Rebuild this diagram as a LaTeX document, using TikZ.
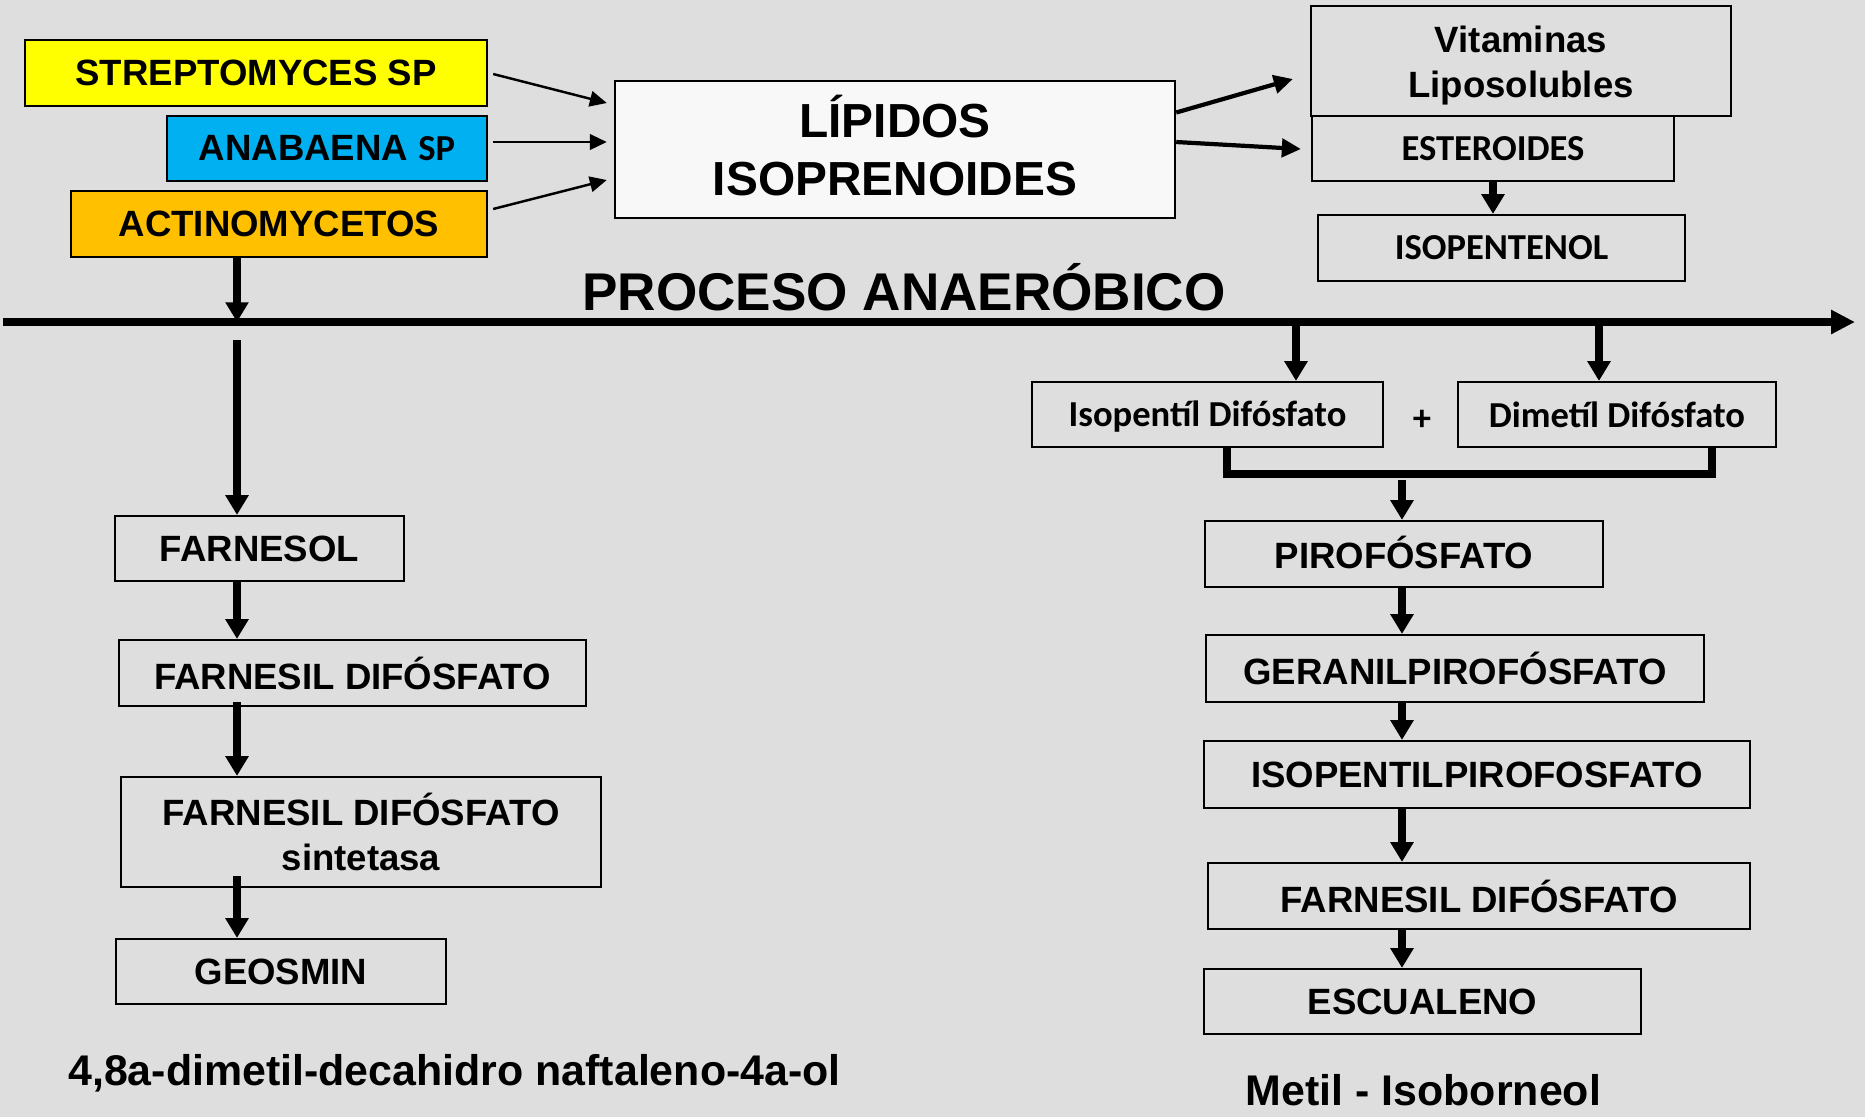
\documentclass[tikz,border=0pt]{standalone}
\usepackage{fontspec}
\setmainfont{Liberation Sans}
\newfontfamily\calib{Carlito}
\usetikzlibrary{arrows.meta,calc}
\definecolor{bg}{HTML}{DEDEDE}
\definecolor{yellowc}{HTML}{FFFF00}
\definecolor{cyanc}{HTML}{00B0F0}
\definecolor{orangec}{HTML}{FFC000}
\definecolor{lipfill}{HTML}{F8F8F8}
\newcommand{\mvtxt}[2]{\raisebox{#1}[\height][\depth]{#2}}
\begin{document}
\begin{tikzpicture}[x=0.01cm,y=-0.01cm,
  box/.style={draw=black, line width=0.6pt, fill=bg, inner sep=0pt, align=center,
    font=\bfseries\fontsize{10.4}{12.8}\selectfont},
  cbox/.style={font=\calib\bfseries\fontsize{10.4}{12.8}\selectfont},
  labeltext/.style={anchor=base, inner sep=0pt, font=\bfseries\fontsize{12.2}{14}\selectfont},
  flowarrow/.style={line width=2pt, -{Triangle[width=6.3pt,length=5.6pt]}},
  thinarrow/.style={line width=0.7pt, -{Triangle[width=4.4pt,length=4.8pt]}},
  medarrow/.style={line width=1.2pt, -{Triangle[width=5.2pt,length=5.4pt]}},
  mainline/.style={line width=2.2pt, -{Triangle[width=6.5pt,length=6.8pt]}},
  brkt/.style={line width=2pt}]
\fill[bg] (0,0) rectangle (1865,1117);
\useasboundingbox (0,0) rectangle (1865,1117);

% sources
\node[box, fill=yellowc, minimum width=4.62cm, minimum height=0.66cm] (strep) at (256,73) {STREPTOMYCES SP};
\node[box, fill=cyanc, minimum width=3.20cm, minimum height=0.65cm] (anab) at (327,148.5) {ANABAENA {\calib\fontsize{10.4}{12}\selectfont SP}};
\node[box, fill=orangec, minimum width=4.16cm, minimum height=0.66cm] (actino) at (279,224) {ACTINOMYCETOS};

\node[box, fill=lipfill, minimum width=5.60cm, minimum height=1.37cm,
  font=\bfseries\fontsize{13.6}{16.5}\selectfont] (lipidos) at (895,149.5)
  {\mvtxt{0.035cm}{LÍPIDOS}\\\mvtxt{0.035cm}{ISOPRENOIDES}};

\node[box, minimum width=4.20cm, minimum height=1.10cm] (vitam) at (1521,61)
  {\mvtxt{-0.05cm}{Vitaminas}\\\mvtxt{-0.05cm}{Liposolubles}};
\node[box, cbox, minimum width=3.62cm, minimum height=0.65cm] (ester) at (1493,148.5) {ESTEROIDES};
\node[box, cbox, minimum width=3.67cm, minimum height=0.66cm] (isopentenol) at (1501.5,248) {ISOPENTENOL};

\node[anchor=base, inner sep=0pt, font=\bfseries\fontsize{15.1}{18}\selectfont] (proceso) at (904,310) {PROCESO ANAERÓBICO};

% arrows into/out of lipidos
\draw[thinarrow] ($(strep.east)+(5,1)$) -- ($(lipidos.west)+(-7,-46.5)$);
\draw[thinarrow] ($(anab.east)+(5,-6.5)$) -- ($(lipidos.west)+(-7,-7.5)$);
\draw[thinarrow] ($(actino.east)+(5,-15)$) -- ($(lipidos.west)+(-7,30.5)$);
\draw[medarrow] ($(lipidos.east)+(0,-37)$) -- ($(vitam.west)+(-17,18)$);
\draw[medarrow] ($(lipidos.east)+(0,-7.5)$) -- ($(ester.west)+(-10,0.5)$);
\draw[flowarrow] (ester.south) -- (ester.south |- isopentenol.north);

% main line
\coordinate (lineS) at (3,322);
\coordinate (lineE) at (1855,322);
\draw[mainline] (lineS) -- (lineE);
\coordinate (cL) at (237,322);
\coordinate (startL) at (237,340);
\coordinate (cR1) at (1296,322);
\coordinate (cR2) at (1599,322);

% right column
\node[box, cbox, minimum width=3.51cm, minimum height=0.65cm] (isop) at (1207.5,414.5) {\mvtxt{-0.02cm}{Isopentíl Difósfato}};
\node[box, cbox, minimum width=3.18cm, minimum height=0.65cm] (dimet) at (1617,414.5) {Dimetíl Difósfato};
\node[inner sep=0pt, font=\calib\bfseries\fontsize{10.4}{12}\selectfont] (plus) at (1422,420) {+};
\draw[flowarrow] (cR1) -- (isop.north -| cR1);
\draw[flowarrow] (cR2) -- (dimet.north -| cR2);

\coordinate (brL) at (1227,474);
\coordinate (brR) at (1712,474);
\draw[brkt] (isop.south -| brL) -- (brL) -- (brR) -- (dimet.south -| brR);
\coordinate (cR) at (1402,480);

\node[box, minimum width=3.98cm, minimum height=0.66cm] (piro) at (1404,554) {\mvtxt{0.02cm}{PIROFÓSFATO}};
\node[box, minimum width=4.98cm, minimum height=0.67cm] (geranil) at (1455,668.5) {GERANILPIROFÓSFATO};
\node[box, minimum width=5.46cm, minimum height=0.67cm] (isopp) at (1477,774.5) {ISOPENTILPIROFOSFATO};
\node[box, minimum width=5.42cm, minimum height=0.66cm] (farnR) at (1479,896) {FARNESIL DIFÓSFATO};
\node[box, minimum width=4.37cm, minimum height=0.65cm] (escual) at (1422.5,1001.5) {ESCUALENO};
\node[labeltext] (metil) at (1423.5,1105) {Metil - Isoborneol};

\draw[flowarrow] (cR) -- (piro.north -| cR);
\draw[flowarrow] (piro.south -| cR) -- (geranil.north -| cR);
\draw[flowarrow] (geranil.south -| cR) -- (isopp.north -| cR);
\draw[flowarrow] (isopp.south -| cR) -- (farnR.north -| cR);
\draw[flowarrow] (farnR.south -| cR) -- (escual.north -| cR);

% left column
\node[box, minimum width=2.89cm, minimum height=0.65cm] (farnesol) at (259.5,548.5) {FARNESOL};
\node[box, minimum width=4.67cm, minimum height=0.66cm] (fdp) at (352.5,673) {FARNESIL DIFÓSFATO};
\node[box, minimum width=4.80cm, minimum height=1.10cm] (fdps) at (361,832) {FARNESIL DIFÓSFATO\\sintetasa};
\node[box, minimum width=3.30cm, minimum height=0.65cm] (geosmin) at (281,971.5) {GEOSMIN};
\node[labeltext] (naft) at (454.5,1085) {4,8a-dimetil-decahidro naftaleno-4a-ol};

\draw[flowarrow] (actino.south -| cL) -- (cL);
\draw[flowarrow] (startL) -- (farnesol.north -| startL);
\draw[flowarrow] (farnesol.south -| startL) -- (fdp.north -| startL);
\draw[flowarrow] ($(fdp.south -| startL)+(0,-5)$) -- (fdps.north -| startL);
\draw[flowarrow] ($(fdps.south -| startL)+(0,-12)$) -- (geosmin.north -| startL);
\end{tikzpicture}
\end{document}
